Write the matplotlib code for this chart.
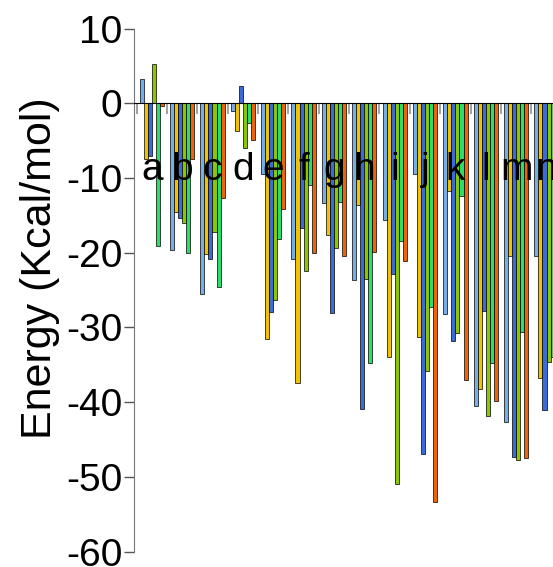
import numpy as np
import matplotlib.pyplot as plt

plt.rcParams['font.family'] = ['Liberation Sans', 'DejaVu Sans']
plt.rcParams['axes.unicode_minus'] = False

groups = list("abcdefghijklmn")
series_colors = ['#78AEE6', '#F0C200', '#3A6BD9', '#8CC600', '#2EDC6A', '#EC6508']

# one row per group: lightblue, yellow, blue, yellowgreen, green, orange
energy = np.array([
    [3.2, -7.4, -7.0, 5.3, -19.1, -0.4],
    [-19.6, -14.6, -15.4, -16.0, -20.0, -7.5],
    [-25.5, -20.2, -20.9, -17.2, -24.6, -12.7],
    [-1.0, -3.7, 2.3, -6.0, -2.7, -4.9],
    [-9.4, -31.5, -28.0, -26.3, -18.2, -14.1],
    [-20.9, -37.5, -16.7, -22.4, -11.0, -20.1],
    [-13.4, -17.6, -28.1, -19.4, -13.2, -20.5],
    [-23.7, -13.6, -40.9, -23.5, -34.8, -19.9],
    [-15.6, -34.0, -22.8, -51.0, -18.4, -21.1],
    [-9.5, -31.3, -46.9, -35.8, -27.3, -53.4],
    [-28.2, -11.7, -31.8, -30.7, -12.4, -37.0],
    [-40.5, -38.2, -27.8, -41.8, -34.7, -39.8],
    [-42.6, -20.5, -47.3, -47.8, -30.6, -47.5],
    [-20.5, -36.8, -41.1, -34.6, -34.0, np.nan],
])

n_groups, n_series = energy.shape
group_w = n_series + 1.5
starts = np.arange(n_groups) * group_w

fig = plt.figure(figsize=(5.53, 5.67), dpi=100)
ax = fig.add_axes([133.5 / 553, 0, 419.5 / 553, 1])

for j in range(n_series):
    ax.bar(starts + 1.5 + j, energy[:, j], width=1, align='edge',
           color=series_colors[j], edgecolor='black', linewidth=0.5, zorder=2)

for i, g in enumerate(groups):
    ax.text(starts[i] + 1.5 + n_series / 2, -10.2, g, ha='center', va='baseline',
            fontsize=28, zorder=5)

ax.set_xlim(0, 103.6)
ax.set_ylim(-62.07, 13.83)

ax.spines['top'].set_visible(False)
ax.spines['right'].set_visible(False)
ax.spines['bottom'].set_position(('data', 0))
ax.spines['bottom'].set_color('black')
ax.spines['bottom'].set_zorder(3)
ax.spines['left'].set_bounds(-60, 10)
ax.spines['left'].set_color('#777777')

ax.set_xticks(starts + 0.75)
ax.set_xticklabels([])
ax.tick_params(axis='x', direction='out', length=8, width=1.3, color='#9a9a9a')

ax.set_yticks(np.arange(-60, 11, 10))
ax.tick_params(axis='y', direction='out', length=7, width=1, color='#555555',
               labelsize=28, pad=1)

ax.set_ylabel('Energy (Kcal/mol)', fontsize=31)
ax.yaxis.set_label_coords((60 - 133.5) / 419.5, 1 - 268 / 567)

fig.savefig('out.png', dpi=100)
